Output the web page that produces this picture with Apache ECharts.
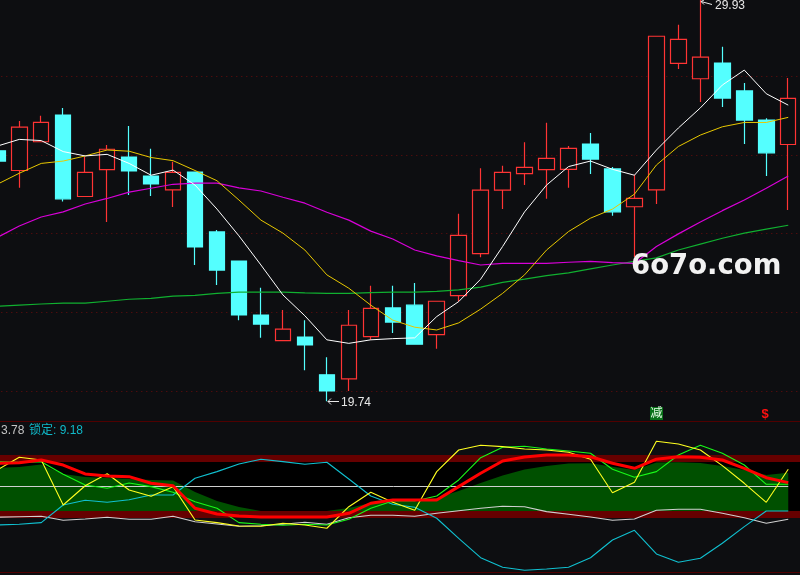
<!DOCTYPE html>
<html><head><meta charset="utf-8">
<style>html,body{margin:0;padding:0;background:#0d0e11}#c{width:800px;height:575px}</style>
<script src="https://cdn.jsdelivr.net/npm/echarts@6/dist/echarts.min.js"></script>
</head><body><div id="c"></div>
<script>
const categories=[1,2,3,4,5,6,7,8,9,10,11,12,13,14,15,16,17,18,19,20,21,22,23,24,25,26,27,28,29,30,31,32,33,34,35,36,37,38];
// [open, close, low, high]
const candles=[
[26.10,25.84,25.84,26.10],[25.60,26.70,25.16,26.86],[26.33,26.82,26.33,26.99],[27.01,24.88,24.81,27.19],
[24.94,25.55,24.94,25.95],[25.62,26.14,24.29,26.25],[25.94,25.59,24.98,26.73],[25.46,25.26,24.95,26.15],
[25.11,25.55,24.67,25.82],[25.56,23.66,23.20,25.56],[24.04,23.07,22.69,24.09],[23.30,21.93,21.80,23.30],
[21.93,21.70,21.35,22.62],[21.28,21.57,21.28,22.06],[21.37,21.17,20.53,21.80],[20.41,20.00,19.74,20.86],
[20.31,21.67,20.00,22.06],[21.38,22.10,21.30,22.67],[22.11,21.75,21.47,22.67],[22.18,21.19,21.19,22.74],
[21.43,22.28,21.07,22.28],[22.42,23.95,22.27,24.50],[23.49,25.10,23.40,25.66],[25.10,25.55,24.62,25.72],
[25.52,25.68,25.23,26.32],[25.62,25.91,24.88,26.81],[25.63,26.16,25.16,26.22],[26.27,25.89,25.51,26.55],
[25.64,24.55,24.45,25.69],[24.68,24.89,23.40,25.49],[25.11,29.01,24.75,29.01],[28.32,28.93,28.18,29.30],
[27.93,28.48,27.34,29.93],[28.33,27.44,27.21,28.74],[27.62,26.88,26.27,27.82],[26.88,26.05,25.46,26.93],
[26.26,27.43,24.60,27.95]];
const ma5=[26.22,26.39,26.36,26.08,25.97,26.01,25.78,25.48,25.61,25.23,24.62,23.94,23.20,22.44,21.91,21.30,21.21,21.30,21.33,21.35,21.89,22.27,22.84,23.67,24.55,25.23,25.70,25.84,25.63,25.48,26.12,26.68,27.19,27.77,28.15,27.55,27.26];
const ma10=[25.25,25.53,25.78,25.84,25.97,26.12,26.09,25.93,25.85,25.60,25.34,24.85,24.34,24.01,23.58,22.95,22.61,22.18,21.80,21.62,21.55,21.73,22.08,22.48,22.95,23.58,24.05,24.39,24.62,25.00,25.74,26.21,26.50,26.71,26.82,26.82,26.95];
const ma30=[23.90,24.19,24.42,24.55,24.75,24.89,25.05,25.15,25.25,25.28,25.28,25.16,25.08,24.92,24.77,24.54,24.34,24.06,23.86,23.58,23.43,23.31,23.20,23.24,23.24,23.24,23.27,23.29,23.26,23.24,23.67,23.99,24.29,24.58,24.85,25.15,25.46];
const ma60=[22.15,22.18,22.21,22.23,22.23,22.28,22.33,22.35,22.41,22.43,22.48,22.51,22.51,22.51,22.49,22.48,22.48,22.50,22.51,22.51,22.53,22.57,22.64,22.76,22.84,22.93,23.00,23.10,23.20,23.29,23.38,23.58,23.73,23.88,24.01,24.11,24.21];
const oscArea=[69.6,70.7,73.4,63.2,60.0,58.9,57.8,56.8,56.2,43.9,34.2,27.8,23.5,23.5,23.5,23.5,26.7,32.1,33.2,33.2,37.5,45.0,53.5,61.6,68.0,71.8,74.5,74.7,71.0,67.5,75.5,75.7,75.0,71.8,67.5,62.1,64.6];
const oscRed=[74.5,75.3,78.2,72.8,63.2,61.0,60.3,53.2,50.6,26.4,20.3,18.1,17.1,17.1,17.1,17.1,21.0,31.8,35.3,35.3,35.3,49.6,63.9,77.1,81.4,83.6,83.6,81.7,74.7,69.3,79.0,81.7,81.1,78.2,69.3,59.2,53.9];
const oscYellow=[67.5,81.1,78.2,29.9,50.6,63.5,46.0,39.3,49.6,13.9,11.0,7.4,7.1,10.3,8.5,5.0,28.1,43.6,32.8,24.3,65.7,88.9,94.0,92.5,90.0,88.9,86.5,79.0,43.1,54.3,98.3,95.4,88.9,72.1,53.2,32.8,68.2];
const oscGreen=[76.4,75.7,76.4,62.9,51.4,47.9,53.5,49.6,43.6,33.5,26.4,11.0,9.2,8.2,9.2,8.5,14.6,26.4,34.2,34.2,39.6,56.8,80.7,91.8,92.9,90.0,87.9,85.4,68.2,59.7,65.7,83.6,94.0,85.4,72.8,52.1,52.1];
const oscCyan=[8.5,9.2,11.0,29.9,35.0,32.8,35.6,40.7,40.7,58.6,65.7,73.9,79.0,76.4,73.6,75.7,57.8,39.6,30.7,27.5,15.7,-5.8,-26.6,-36.9,-40.1,-38.7,-36.9,-26.6,-7.6,2.8,-22.6,-31.5,-27.2,-11.1,6.7,23.5,23.5];
const oscGrey=[16.8,17.4,17.8,13.5,14.9,16.8,14.6,14.6,17.8,12.0,9.6,7.1,7.7,9.2,11.4,9.2,16.3,18.9,18.9,17.8,21.0,23.8,26.4,28.6,28.1,22.8,20.0,17.1,13.5,14.9,24.3,25.3,25.3,21.0,16.3,10.3,14.6];
const priceTicks={min:18,max:30,interval:2};
const oscLevels={top:119.5,bottom:-42.5,mid:50,bandHiTop:83.6,bandHiBot:76.1,bandLoTop:23.5,bandLoBot:16};
const labels={hi:'29.93',lo:'19.74',a:'3.78',b:'锁定: 9.18',mark1:'减',mark2:'$',brand:'6o7o.com'};

const BG='#0d0e11',RED='#ff3434',CY='#54ffff',DK='#660000';
const font='"Liberation Sans","Noto Sans CJK SC",sans-serif';
function ln(name,data,color,width,gi,z){
  return {name,type:'line',data,xAxisIndex:gi,yAxisIndex:gi,showSymbol:false,symbol:'none',smooth:false,silent:true,z:z||6,
    lineStyle:{color,width}};
}
const hideAxis={show:false};
const chart=echarts.init(document.getElementById('c'),null,{renderer:'canvas'});
const T=(x,y,text,fill,size,extra)=>({type:'text',x,y,z:50,silent:true,style:Object.assign({text,fill,font:(size||12)+'px '+font,textVerticalAlign:'middle'},extra||{})});
chart.setOption({
  animation:false,backgroundColor:BG,
  grid:[
    {left:-13.7,top:-2.75,width:834.9,height:472.5,containLabel:false,show:false,outerBoundsMode:'none'},
    {left:-13.7,top:421,width:834.9,height:152,containLabel:false,show:false,outerBoundsMode:'none'}
  ],
  xAxis:[
    {type:'category',gridIndex:0,data:categories,boundaryGap:true,show:false},
    {type:'category',gridIndex:1,data:categories,boundaryGap:true,show:false}
  ],
  yAxis:[
    {type:'value',gridIndex:0,min:priceTicks.min,max:priceTicks.max,interval:priceTicks.interval,
      axisLine:hideAxis,axisTick:hideAxis,axisLabel:hideAxis,
      splitLine:{show:true,showMinLine:false,showMaxLine:false,lineStyle:{color:'#6a0c0c',width:1,type:[1,4]}}},
    {type:'value',gridIndex:1,min:-43,max:120,axisLine:hideAxis,axisTick:hideAxis,axisLabel:hideAxis,splitLine:hideAxis}
  ],
  series:[
    {name:'K',type:'candlestick',xAxisIndex:0,yAxisIndex:0,data:candles,barWidth:16,silent:true,z:2,
      itemStyle:{color:BG,color0:CY,borderColor:RED,borderColor0:CY,borderWidth:1.2}},
    ln('MA60',ma60,'#10b030',1.2,0),
    ln('MA30',ma30,'#d800d8',1.2,0),
    ln('MA10',ma10,'#e8c800',1,0),
    ln('MA5',ma5,'#ffffff',1,0),
    {name:'area',type:'line',xAxisIndex:1,yAxisIndex:1,data:oscArea,showSymbol:false,symbol:'none',silent:true,z:2,
      lineStyle:{width:0},areaStyle:{color:'#005000',opacity:1,origin:oscLevels.bandLoTop},
      markArea:{silent:true,data:[
        [{yAxis:oscLevels.bandHiBot,itemStyle:{color:'#000000',opacity:1}},{yAxis:oscLevels.bandLoTop}],
        [{yAxis:oscLevels.bandHiTop,itemStyle:{color:DK,opacity:1}},{yAxis:oscLevels.bandHiBot}],
        [{yAxis:oscLevels.bandLoTop,itemStyle:{color:DK,opacity:1}},{yAxis:oscLevels.bandLoBot}]
      ]},
      markLine:{silent:true,symbol:'none',label:{show:false},animation:false,data:[
        {yAxis:oscLevels.top,lineStyle:{color:'#500000',width:1,type:'solid'}},
        {yAxis:oscLevels.bottom,lineStyle:{color:'#500000',width:1,type:'solid'}},
        [{xAxis:0,yAxis:oscLevels.mid,lineStyle:{color:'#cfcfcf',width:1,type:'solid'}},{xAxis:36,yAxis:oscLevels.mid}]
      ]}},
    ln('grey',oscGrey,'#d0d0d0',1.1,1),
    ln('cyan',oscCyan,'#10c0d0',1.1,1),
    ln('green',oscGreen,'#18f818',1.1,1),
    ln('yellow',oscYellow,'#ffff20',1.1,1),
    ln('red',oscRed,'#ff0000',3,1,7)
  ],
  graphic:[
    T(1,430.5,labels.a,'#c4c4c4',12),
    T(29,430.5,labels.b,'#10b8c8',12),
    {type:'polyline',z:50,silent:true,shape:{points:[[328,401.5],[339,401.5]]},style:{stroke:'#e8e8e8',lineWidth:1,fill:null}},
    {type:'polyline',z:50,silent:true,shape:{points:[[331,398.5],[328,401.5],[331,404.5]]},style:{stroke:'#e8e8e8',lineWidth:1,fill:null}},
    T(341,402.5,labels.lo,'#e8e8e8',12),
    {type:'polyline',z:50,silent:true,shape:{points:[[701,1.5],[712,4.5]]},style:{stroke:'#e8e8e8',lineWidth:1,fill:null}},
    {type:'polyline',z:50,silent:true,shape:{points:[[704,0],[701,1.5],[704,4.5]]},style:{stroke:'#e8e8e8',lineWidth:1,fill:null}},
    T(715,5.5,labels.hi,'#e8e8e8',12),
    {type:'rect',z:49,silent:true,shape:{x:650,y:407,width:13,height:13},style:{fill:'#087018'}},
    T(650.5,413.8,labels.mark1,'#e8ffe8',12),
    T(761.5,414.5,labels.mark2,'#ff1010',13,{font:'bold 13px '+font}),
    T(631,266.5,labels.brand,'#f2f2f2',28,{font:'bold 27.5px "DejaVu Sans",sans-serif'})
  ]
});
</script></body></html>
